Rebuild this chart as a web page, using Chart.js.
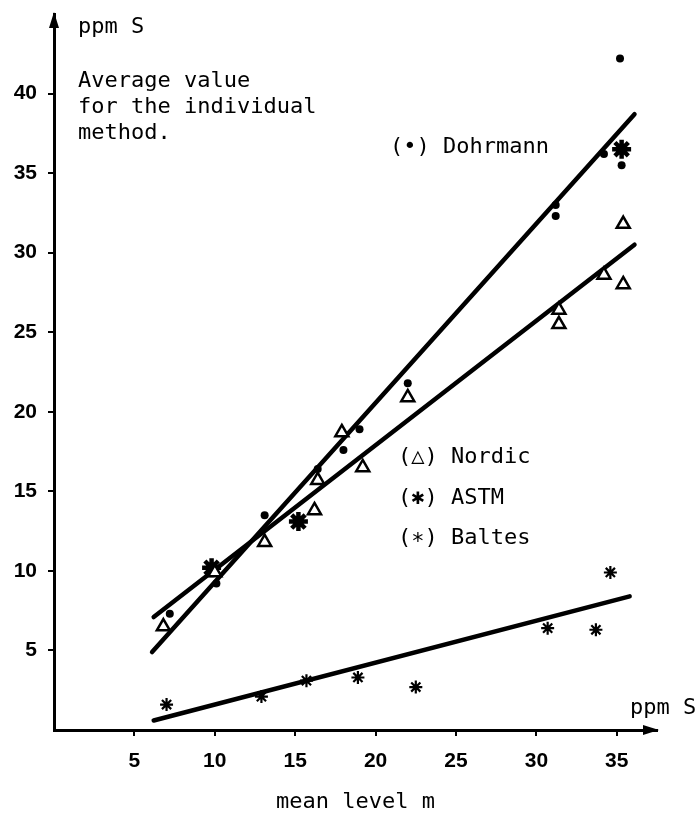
<!DOCTYPE html>
<html>
<head>
<meta charset="utf-8">
<script src="https://cdn.jsdelivr.net/npm/chart.js@4.4.1/dist/chart.umd.min.js"></script>
<style>
    body { margin: 0; background: #fff; }
    #wrap { width: 697px; height: 816px; }
</style>
</head>
<body>
<div id="wrap"><canvas id="sulfurChart"></canvas></div>
<script>
// Werte (x = mean level m, y = ppm S)
const dohrmannX = [7.2, 10.1, 13.1, 16.4, 18.0, 19.0, 22.0, 31.2, 31.2, 34.2, 35.3, 35.2];
const dohrmannY = [7.3, 9.2, 13.5, 16.4, 17.6, 18.9, 21.8, 33.0, 32.3, 36.2, 35.5, 42.2];

const nordicX = [6.8, 10.0, 13.1, 16.2, 16.4, 17.9, 19.2, 22.0, 31.4, 31.4, 34.2, 35.4, 35.4];
const nordicY = [6.5, 9.9, 11.8, 13.8, 15.7, 18.7, 16.5, 20.9, 26.4, 25.5, 28.6, 28.0, 31.8];

const astmX = [9.8, 15.2, 35.3];
const astmY = [10.2, 13.1, 36.5];

const baltesX = [7.0, 12.9, 15.7, 18.9, 22.5, 30.7, 33.7, 34.6];
const baltesY = [1.6, 2.1, 3.1, 3.3, 2.7, 6.4, 6.3, 9.9];

// Ausgleichsgeraden (Anfangs- und Endpunkt)
const dohrmannLineX = [6.1, 36.1];
const dohrmannLineY = [4.9, 38.7];
const nordicLineX = [6.2, 36.1];
const nordicLineY = [7.1, 30.5];
const baltesLineX = [6.2, 35.8];
const baltesLineY = [0.6, 8.4];

const xTicks = [5, 10, 15, 20, 25, 30, 35];
const yTicks = [5, 10, 15, 20, 25, 30, 35, 40];

const monoFont = "'DejaVu Sans Mono', 'Liberation Mono', monospace";
const tickFont = "'Liberation Sans Narrow', 'Liberation Sans', Arial, sans-serif";

function toPoints(xs, ys)
{
    return xs.map((x, i) => ({ x: x, y: ys[i] }));
}

function lineDataset(xs, ys)
{
    return {
        type: 'line',
        data: toPoints(xs, ys),
        borderColor: '#000',
        borderWidth: 4.5,
        borderCapStyle: 'round',
        pointRadius: 0,
        fill: false,
        order: 2,
    };
}

// Pfeile und Beschriftungen im Diagramm
const annotationPlugin = {
    id: 'annotations',
    afterDraw(chart)
    {
        const ctx = chart.ctx;
        const area = chart.chartArea;
        ctx.save();
        ctx.fillStyle = '#000';

        // Pfeilspitzen
        ctx.beginPath();
        ctx.moveTo(area.left, area.top - 2);
        ctx.lineTo(area.left - 5, area.top + 14);
        ctx.lineTo(area.left + 5, area.top + 14);
        ctx.closePath();
        ctx.fill();

        ctx.beginPath();
        ctx.moveTo(area.right + 2, area.bottom);
        ctx.lineTo(area.right - 14, area.bottom - 5);
        ctx.lineTo(area.right - 14, area.bottom + 5);
        ctx.closePath();
        ctx.fill();

        ctx.font = '22px ' + monoFont;
        ctx.textBaseline = 'middle';
        ctx.textAlign = 'left';
        ctx.fillText('ppm S', 78, 27);
        ctx.fillText('Average value', 78, 81);
        ctx.fillText('for the individual', 78, 107);
        ctx.fillText('method.', 78, 133);
        ctx.fillText('(•) Dohrmann', 390, 147);
        ctx.fillText('(△) Nordic', 398, 457);
        ctx.fillText('(✱) ASTM', 398, 498);
        ctx.fillText('(∗) Baltes', 398, 538);
        ctx.fillText('ppm S', 630, 708);
        ctx.restore();
    }
};

document.addEventListener('DOMContentLoaded', function ()
{
    const ctx = document.getElementById('sulfurChart').getContext('2d');

    new Chart(ctx, {
        type: 'scatter',
        data: {
            datasets: [
                lineDataset(dohrmannLineX, dohrmannLineY),
                lineDataset(nordicLineX, nordicLineY),
                lineDataset(baltesLineX, baltesLineY),
                {
                    label: 'Dohrmann',
                    data: toPoints(dohrmannX, dohrmannY),
                    pointStyle: 'circle',
                    pointRadius: 4,
                    backgroundColor: '#000',
                    borderColor: '#000',
                    borderWidth: 0,
                    order: 1,
                },
                {
                    label: 'Nordic',
                    data: toPoints(nordicX, nordicY),
                    pointStyle: 'triangle',
                    pointRadius: 7.5,
                    backgroundColor: '#fff',
                    borderColor: '#000',
                    borderWidth: 2.5,
                    order: 0,
                },
                {
                    label: 'ASTM',
                    data: toPoints(astmX, astmY),
                    pointStyle: 'star',
                    pointRadius: 9.5,
                    backgroundColor: '#000',
                    borderColor: '#000',
                    borderWidth: 4.5,
                    order: 0,
                },
                {
                    label: 'Baltes',
                    data: toPoints(baltesX, baltesY),
                    pointStyle: 'star',
                    pointRadius: 6.5,
                    backgroundColor: '#000',
                    borderColor: '#000',
                    borderWidth: 2.2,
                    order: 0,
                },
            ],
        },
        options: {
            responsive: true,
            maintainAspectRatio: false,
            animation: false,
            layout: {
                padding: { top: 10, right: 40, left: 0, bottom: 0 }
            },
            plugins: {
                legend: { display: false },
                tooltip: { enabled: false },
            },
            scales: {
                x: {
                    type: 'linear',
                    min: 0,
                    max: 37.5,
                    afterFit: function (scale)
                    {
                        scale.height = 86;
                        scale.paddingLeft = 0;
                        scale.paddingRight = 0;
                    },
                    afterBuildTicks: function (scale)
                    {
                        scale.ticks = xTicks.map(v => ({ value: v }));
                    },
                    ticks: {
                        color: '#000',
                        padding: 13,
                        maxRotation: 0,
                        font: { family: tickFont, size: 21, weight: 'bold' },
                    },
                    grid: {
                        drawOnChartArea: false,
                        drawTicks: true,
                        tickLength: 6,
                        lineWidth: 2,
                        color: '#000',
                    },
                    border: { display: true, color: '#000', width: 3 },
                    title: {
                        display: true,
                        text: 'mean level m',
                        color: '#000',
                        padding: { top: 0, bottom: 1 },
                        font: { family: monoFont, size: 22 },
                    },
                },
                y: {
                    type: 'linear',
                    min: 0,
                    max: 45,
                    afterFit: function (scale)
                    {
                        scale.width = 54;
                        scale.paddingTop = 0;
                        scale.paddingBottom = 0;
                    },
                    afterBuildTicks: function (scale)
                    {
                        scale.ticks = yTicks.map(v => ({ value: v }));
                    },
                    ticks: {
                        color: '#000',
                        padding: 11,
                        font: { family: tickFont, size: 21, weight: 'bold' },
                    },
                    grid: {
                        drawOnChartArea: false,
                        drawTicks: true,
                        tickLength: 6,
                        lineWidth: 2,
                        color: '#000',
                    },
                    border: { display: true, color: '#000', width: 3 },
                },
            },
        },
        plugins: [annotationPlugin],
    });
});
</script>
</body>
</html>
